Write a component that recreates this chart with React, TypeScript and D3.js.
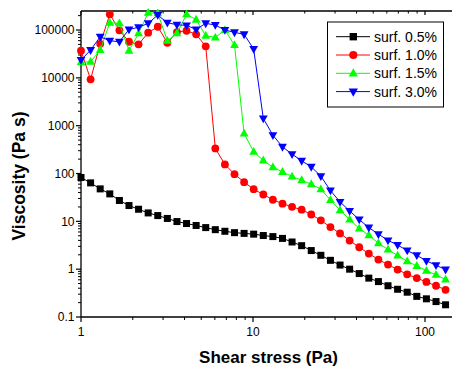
import React from "react";
import * as d3 from "d3";

// Shear stress (Pa) — shared by all series
const shearStress = [
  1, 1.137, 1.293, 1.47, 1.672, 1.901, 2.161, 2.458, 2.795, 3.177,
  3.613, 4.108, 4.671, 5.311, 6.038, 6.866, 7.807, 8.877, 10.09, 11.48,
  13.05, 14.84, 16.87, 19.18, 21.81, 24.8, 28.2, 32.07, 36.46, 41.46,
  47.14, 53.6, 60.95, 69.3, 78.8, 89.6, 101.9, 115.9, 131.7,
];

const surf05 = [
  82.6, 63.7, 47.7, 37.5, 27.3, 21.4, 17.9, 15.0, 13.2, 11.5,
  9.9, 9.0, 8.2, 7.4, 6.7, 6.2, 5.8, 5.6, 5.4, 5.05,
  4.8, 4.4, 3.7, 3.1, 2.45, 1.95, 1.53, 1.22, 1.0, 0.81,
  0.65, 0.55, 0.45, 0.38, 0.33, 0.27, 0.24, 0.21, 0.18,
];

const surf10 = [
  36900, 9300, 51600, 213000, 98600, 56900, 50200, 87900, 117000, 54200,
  90800, 96700, 81200, 45600, 334, 155, 97, 66, 47, 36.4,
  28.3, 23.4, 20.1, 17.5, 13.9, 10.5, 7.6, 5.6, 3.97, 2.87,
  2.12, 1.59, 1.25, 0.98, 0.78, 0.65, 0.54, 0.45, 0.37,
];

const surf15 = [
  21100, 21700, 38100, 142000, 138000, 36900, 85300, 230000, 223000, 59700,
  85300, 213000, 165000, 76000, 70000, 100000, 48500, 689, 284, 188,
  136, 108, 86.8, 72.6, 59.9, 47, 28, 17.1, 10.9, 7.1,
  5.1, 3.5, 2.57, 1.93, 1.46, 1.17, 0.93, 0.76, 0.61,
];

const surf30 = [
  23600, 38100, 72400, 59700, 56900, 103000, 114000, 138000, 206000, 142000,
  129000, 125000, 103000, 138000, 127000, 100000, 89500, 81300, 40000, 1420,
  634, 361, 254, 184, 138, 88, 44, 25.5, 16.5, 10.9,
  7.4, 5.4, 4.0, 3.2, 2.45, 1.95, 1.49, 1.21, 0.98,
];

const seriesNames = ["surf. 0.5%", "surf. 1.0%", "surf. 1.5%", "surf. 3.0%"];
const seriesColors = ["#000000", "#ff0000", "#00ff00", "#0000ff"];
const seriesShapes = ["square", "circle", "triUp", "triDown"];
const seriesValues = [surf05, surf10, surf15, surf30];

const yTickValues = [0.1, 1, 10, 100, 1000, 10000, 100000];
const yTickLabels = ["0.1", "1", "10", "100", "1000", "10000", "100000"];
const xTickValues = [1, 10, 100];
const xTickLabels = ["1", "10", "100"];

const W = 452;
const H = 369;
const left = 81;
const top = 11;
const bottom = 317;
const decade = 172;
const xMax = 160;

const FONT = "'Liberation Sans', Arial, Helvetica, sans-serif";

function Marker({ shape, cx, cy, color, s = 1 }: any) {
  if (shape === "square") {
    const h = 3.5 * s;
    return <rect x={cx - h} y={cy - h} width={2 * h} height={2 * h} fill={color} />;
  }
  if (shape === "circle") {
    return <circle cx={cx} cy={cy} r={3.9 * s} fill={color} />;
  }
  const w = 4.4 * s;
  const up = 4.8 * s;
  const dn = 3.0 * s;
  if (shape === "triUp") {
    const p = `M${cx},${cy - up}L${cx + w},${cy + dn}L${cx - w},${cy + dn}Z`;
    return <path d={p} fill={color} />;
  }
  const p = `M${cx},${cy + up}L${cx + w},${cy - dn}L${cx - w},${cy - dn}Z`;
  return <path d={p} fill={color} />;
}

export default function App() {
  const x = d3
    .scaleLog()
    .domain([1, xMax])
    .range([left, left + decade * Math.log10(xMax)]);
  const y = d3.scaleLog().domain([0.1, 250000]).range([bottom, top]);

  const xMinor: number[] = [];
  [1, 10, 100].forEach((d) => {
    for (let k = 2; k <= 9; k++) {
      const v = k * d;
      if (v < xMax) xMinor.push(v);
    }
  });
  const yMinor: number[] = [];
  [0.1, 1, 10, 100, 1000, 10000, 100000].forEach((d) => {
    for (let k = 2; k <= 9; k++) {
      const v = k * d;
      if (v <= 250000) yMinor.push(v);
    }
  });

  const line = d3
    .line<[number, number]>()
    .x((d) => x(d[0]))
    .y((d) => y(d[1]));

  const legX = 327.5;
  const legY = 22;
  const legW = 116;
  const legH = 85;
  const rowY = (i: number) => legY + 14.7 + i * 18.3;

  return (
    <svg
      width={W}
      height={H}
      style={{ position: "absolute", left: 0, top: 0, background: "#fff" }}
      fontFamily={FONT}
    >
      <rect x={0} y={0} width={W} height={H} fill="#fff" />

      {/* axes lines */}
      <line x1={left} y1={top} x2={left} y2={bottom} stroke="#000" strokeWidth={1.3} />
      <line x1={left} y1={bottom} x2={W} y2={bottom} stroke="#000" strokeWidth={1.3} />
      <line x1={left} y1={top} x2={W} y2={top} stroke="#000" strokeWidth={1.3} />

      {/* x ticks bottom */}
      {xTickValues.map((v, i) => (
        <g key={"xt" + i}>
          <line x1={x(v)} x2={x(v)} y1={bottom} y2={bottom + 5} stroke="#000" strokeWidth={1.2} />
          <text x={x(v)} y={bottom + 18.5} fontSize={12} textAnchor="middle" fill="#000">
            {xTickLabels[i]}
          </text>
          <line x1={x(v)} x2={x(v)} y1={top} y2={top + 4} stroke="#000" strokeWidth={1.2} />
        </g>
      ))}
      {xMinor.map((v, i) => (
        <g key={"xm" + i}>
          <line x1={x(v)} x2={x(v)} y1={bottom} y2={bottom + 3} stroke="#000" strokeWidth={1} />
          <line x1={x(v)} x2={x(v)} y1={top} y2={top + 2.5} stroke="#000" strokeWidth={1} />
        </g>
      ))}

      {/* y ticks */}
      {yTickValues.map((v, i) => (
        <g key={"yt" + i}>
          <line x1={left - 5} x2={left} y1={y(v)} y2={y(v)} stroke="#000" strokeWidth={1.2} />
          <text x={left - 6.5} y={y(v) + 4.2} fontSize={12} textAnchor="end" fill="#000">
            {yTickLabels[i]}
          </text>
        </g>
      ))}
      {yMinor.map((v, i) => (
        <line key={"ym" + i} x1={left - 3} x2={left} y1={y(v)} y2={y(v)} stroke="#000" strokeWidth={1} />
      ))}

      {/* axis titles */}
      <text
        x={268.5}
        y={363}
        fontSize={17}
        fontWeight="bold"
        textAnchor="middle"
        fill="#000"
      >
        Shear stress (Pa)
      </text>
      <text
        transform={`translate(24.5,176) rotate(-90)`}
        fontSize={17.5}
        fontWeight="bold"
        textAnchor="middle"
        fill="#000"
      >
        Viscosity (Pa s)
      </text>

      {/* series */}
      {seriesValues.map((vals, si) => {
        const pts = shearStress.map((s, i) => [s, vals[i]] as [number, number]);
        return (
          <g key={"s" + si}>
            <path d={line(pts) || ""} fill="none" stroke={seriesColors[si]} strokeWidth={1} />
            {pts.map((p, i) => (
              <Marker
                key={i}
                shape={seriesShapes[si]}
                cx={x(p[0])}
                cy={y(p[1])}
                color={seriesColors[si]}
              />
            ))}
          </g>
        );
      })}

      {/* legend */}
      <rect x={legX} y={legY} width={legW} height={legH} fill="#fff" stroke="#000" strokeWidth={1} />
      {seriesNames.map((n, i) => (
        <g key={"lg" + i}>
          <line x1={336} x2={370} y1={rowY(i)} y2={rowY(i)} stroke={seriesColors[i]} strokeWidth={1} />
          <Marker shape={seriesShapes[i]} cx={353.3} cy={rowY(i)} color={seriesColors[i]} s={1.05} />
          <text x={374} y={rowY(i) + 5} fontSize={14} fill="#000">
            {n}
          </text>
        </g>
      ))}
    </svg>
  );
}
